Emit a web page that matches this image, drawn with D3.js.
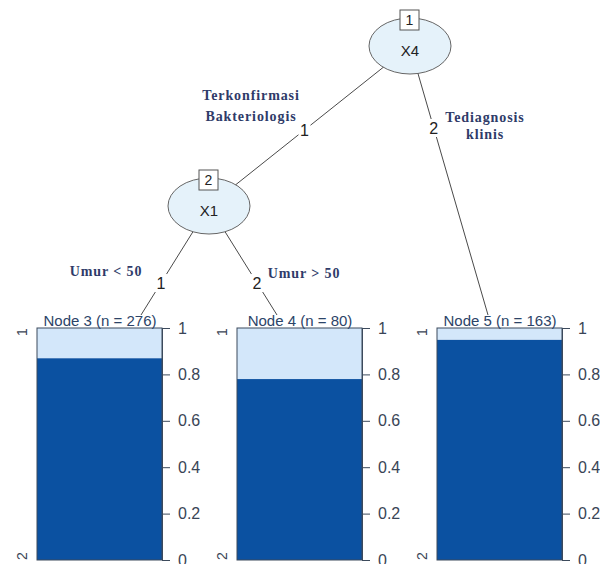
<!DOCTYPE html>
<html>
<head>
<meta charset="utf-8">
<script src="https://cdn.jsdelivr.net/npm/d3@7"></script>
<style>
  html, body { margin: 0; padding: 0; background: #fff; }
  svg { display: block; }
</style>
</head>
<body>
<svg id="chart" width="600" height="564"></svg>
<script>
// Classification tree: inner splits and terminal class proportions
const innerIds = [1, 2];
const innerVars = ["X4", "X1"];
const terminalIds = [3, 4, 5];
const terminalN = [276, 80, 163];
const class1Share = [0.13, 0.22, 0.05];   // light segment (class 1) on top
const classLabels = ["1", "2"];
const yTicks = [0, 0.2, 0.4, 0.6, 0.8, 1];
const edgeLabels = ["1", "2", "1", "2"];
const splitNotes = [["Terkonfirmasi", "Bakteriologis"], ["Tediagnosis", "klinis"], ["Umur < 50"], ["Umur > 50"]];

const svg = d3.select("#chart");
const sans = "'Liberation Sans', Arial, sans-serif";
const serif = "'Liberation Serif', 'Times New Roman', serif";
const darkFill = "#0b51a1";
const lightFill = "#d3e7fa";
const lineCol = "#4a4a4a";
const textCol = "#3a4556";

// layout of the tree
const innerPos = [{x: 410, y: 46}, {x: 209, y: 206}];
const panelLeft = [37, 237, 437];
const panelWidth = 125;
const edgeEnds = [{x: 141, y: 315}, {x: 277, y: 315}, {x: 488, y: 315}];

const y = d3.scaleLinear().domain([0, 1]).range([560, 328]);

// edges with the height at which each label sits
const edges = [
  {a: innerPos[0], b: innerPos[1], lab: edgeLabels[0], ly: 130},
  {a: innerPos[0], b: edgeEnds[2], lab: edgeLabels[1], ly: 128},
  {a: innerPos[1], b: edgeEnds[0], lab: edgeLabels[2], ly: 283},
  {a: innerPos[1], b: edgeEnds[1], lab: edgeLabels[3], ly: 283}
];

const gEdges = svg.append("g");
edges.forEach(e => {
  gEdges.append("line")
    .attr("x1", e.a.x).attr("y1", e.a.y)
    .attr("x2", e.b.x).attr("y2", e.b.y)
    .attr("stroke", lineCol).attr("stroke-width", 1);
  const t = (e.ly - e.a.y) / (e.b.y - e.a.y);
  const lx = e.a.x + t * (e.b.x - e.a.x);
  gEdges.append("rect")
    .attr("x", lx - 6).attr("y", e.ly - 9)
    .attr("width", 12).attr("height", 18)
    .attr("fill", "#fff");
  gEdges.append("text")
    .attr("x", lx).attr("y", e.ly)
    .attr("text-anchor", "middle").attr("dominant-baseline", "central")
    .attr("font-family", sans).attr("font-size", 16)
    .attr("fill", "#222")
    .text(e.lab);
});

// inner nodes
innerIds.forEach((id, i) => {
  const p = innerPos[i];
  const g = svg.append("g");
  g.append("ellipse")
    .attr("cx", p.x).attr("cy", p.y)
    .attr("rx", 41).attr("ry", 28)
    .attr("fill", "#e5f2fa").attr("stroke", "#666").attr("stroke-width", 1);
  g.append("text")
    .attr("x", p.x).attr("y", p.y + 4)
    .attr("text-anchor", "middle").attr("dominant-baseline", "central")
    .attr("font-family", sans).attr("font-size", 15).attr("fill", "#222")
    .text(innerVars[i]);
  g.append("rect")
    .attr("x", p.x - 10).attr("y", p.y - 36)
    .attr("width", 19).attr("height", 20)
    .attr("fill", "#fff").attr("stroke", "#555").attr("stroke-width", 1);
  g.append("text")
    .attr("x", p.x - 0.5).attr("y", p.y - 26)
    .attr("text-anchor", "middle").attr("dominant-baseline", "central")
    .attr("font-family", sans).attr("font-size", 14).attr("fill", "#222")
    .text(id);
});

// terminal nodes: stacked proportion bars with axes
terminalIds.forEach((id, i) => {
  const x0 = panelLeft[i];
  const g = svg.append("g");
  const p1 = class1Share[i];
  // class 2 (dark) from 0 up to 1 - p1, class 1 (light) above it
  g.append("rect")
    .attr("x", x0).attr("y", y(1 - p1))
    .attr("width", panelWidth).attr("height", y(0) - y(1 - p1))
    .attr("fill", darkFill);
  g.append("rect")
    .attr("x", x0).attr("y", y(1))
    .attr("width", panelWidth).attr("height", y(1 - p1) - y(1))
    .attr("fill", lightFill);
  g.append("rect")
    .attr("x", x0).attr("y", y(1))
    .attr("width", panelWidth).attr("height", y(0) - y(1))
    .attr("fill", "none").attr("stroke", "#3c4a5c").attr("stroke-width", 1);

  const axis = d3.axisRight(y).tickValues(yTicks)
    .tickFormat(d3.format("~g")).tickSize(8).tickSizeOuter(0).tickPadding(8);
  const ga = g.append("g")
    .attr("transform", `translate(${x0 + panelWidth},0)`)
    .call(axis);
  ga.select(".domain").attr("stroke", "#3c4a5c");
  ga.selectAll(".tick line").attr("stroke", "#3c4a5c");
  ga.selectAll(".tick text")
    .attr("font-family", sans).attr("font-size", 16)
    .attr("fill", textCol);

  // class labels at left, rotated
  [1, 0].forEach((v, k) => {
    g.append("text")
      .attr("transform", `translate(${x0 - 15},${y(v) + (k === 0 ? 4 : -4)}) rotate(-90)`)
      .attr("text-anchor", "middle").attr("dominant-baseline", "central")
      .attr("font-family", sans).attr("font-size", 14).attr("fill", textCol)
      .text(classLabels[k]);
  });

  g.append("text")
    .attr("x", x0 + panelWidth / 2 + 0.5).attr("y", 320)
    .attr("text-anchor", "middle").attr("dominant-baseline", "central")
    .attr("font-family", sans).attr("font-size", 15).attr("fill", "#2c4468")
    .text(`Node ${id} (n = ${terminalN[i]})`);
});

// split descriptions
const notePos = [{x: 251, y: 95, dy: 21}, {x: 485, y: 117, dy: 17}, {x: 106, y: 271}, {x: 304, y: 273}];
splitNotes.forEach((lines, i) => {
  const t = svg.append("text")
    .attr("text-anchor", "middle")
    .attr("font-family", serif).attr("font-weight", "bold")
    .attr("font-size", 14).attr("letter-spacing", 0.9)
    .attr("fill", "#2f3b69");
  lines.forEach((s, k) => {
    t.append("tspan")
      .attr("x", notePos[i].x)
      .attr("y", notePos[i].y + k * (notePos[i].dy || 0))
      .attr("dominant-baseline", "central")
      .text(s);
  });
});
</script>
</body>
</html>
